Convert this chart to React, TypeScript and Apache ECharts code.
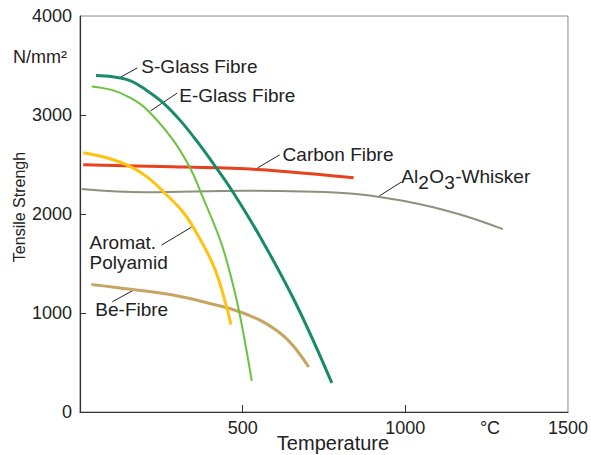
import React, { useEffect, useRef } from "react";
import * as echarts from "echarts";

// Temperature (°C) vs tensile strength (N/mm²)
const sGlass: [number, number][] = [[49, 3400], [100, 3387], [152, 3350], [203, 3253], [258, 3116], [310, 2938], [364, 2715], [419, 2466], [468, 2233], [556, 1756], [665, 1086], [774, 294]];
const eGlass: [number, number][] = [[36, 3289], [100, 3251], [152, 3177], [202, 3065], [283, 2761], [339, 2463], [369, 2236], [430, 1746], [458, 1441], [489, 1018], [528, 315]];
const polyamid: [number, number][] = [[10, 2619], [82, 2568], [152, 2484], [206, 2375], [258, 2220], [319, 2010], [369, 1746], [415, 1441], [450, 1069], [464, 883]];
const carbon: [number, number][] = [[10, 2497], [250, 2480], [507, 2456], [638, 2426], [841, 2365]];
const whisker: [number, number][] = [[5, 2253], [202, 2220], [506, 2236], [810, 2213], [1011, 2121], [1163, 2000], [1300, 1847]];
const beFibre: [number, number][] = [[35, 1289], [162, 1238], [304, 1170], [405, 1091], [486, 1018], [567, 903], [638, 731], [703, 454]];

const xTicks = [500, 1000];
const xLabels = [500, 1000, 1500];
const yTicks = [1000, 2000, 3000];

const FONT = '"Liberation Sans", Arial, Helvetica, sans-serif';
const TXT = "#222";

export default function App() {
  const ref = useRef<HTMLDivElement>(null);
  useEffect(() => {
    if (!ref.current) return;
    const chart = echarts.init(ref.current, null, { renderer: "svg" });
    const line = (data: [number, number][], color: string, width: number) => ({
      type: "line",
      data,
      smooth: 0.4,
      showSymbol: false,
      symbol: "none",
      lineStyle: { color, width, cap: "butt" },
    });
    chart.setOption({
      animation: false,
      grid: { left: 80, top: 16, right: 17, bottom: 43, show: true, borderColor: "#888", borderWidth: 1 },
      xAxis: {
        type: "value",
        min: 0,
        max: 1500,
        interval: 500,
        splitLine: { show: false },
        axisLine: { lineStyle: { color: "#333", width: 1.2 } },
        axisTick: { inside: true, length: 7, lineStyle: { color: "#333" }, customValues: xTicks },
        axisLabel: { color: TXT, fontSize: 18, fontFamily: FONT, margin: 7, customValues: xLabels, formatter: (v: number) => String(v) },
      },
      yAxis: {
        type: "value",
        min: 0,
        max: 4000,
        interval: 1000,
        splitLine: { show: false },
        axisLine: { show: true, lineStyle: { color: "#333", width: 1.2 } },
        axisTick: { inside: true, length: 6, lineStyle: { color: "#333" }, customValues: yTicks },
        axisLabel: { color: TXT, fontSize: 18, fontFamily: FONT, margin: 8, formatter: (v: number) => String(v) },
      },
      series: [
        line(whisker, "#8d907d", 2),
        line(beFibre, "#c9a563", 3),
        line(carbon, "#e8411b", 3),
        line(polyamid, "#ffc20f", 3),
        line(eGlass, "#6cc23d", 2),
        line(sGlass, "#178b6b", 3),
      ],
    });

    // annotations: anchor on curve (data coords), leader offset and text offset (pixels)
    const notes = [
      { at: [121, 3375], d: [18, -10], t: [22, -11], text: "S-Glass Fibre" },
      { at: [216, 3040], d: [27, -18], t: [29, -16], text: "E-Glass Fibre" },
      { at: [546, 2466], d: [22, -13], t: [25, -13], text: "Carbon Fibre" },
      { at: [343, 1868], d: [-30, 18], t: [-102, 15], text: "Aromat." },
      { at: [167, 1235], d: [-22, 12], t: [-39, 20], text: "Be-Fibre" },
    ];
    const g: any[] = [];
    const txt = (x: number, y: number, text: string, extra: any = {}) => ({
      type: "text",
      x,
      y,
      style: { text, fill: TXT, fontSize: 19, fontFamily: FONT, align: "left", verticalAlign: "middle", ...extra },
    });
    notes.forEach((n) => {
      const p = chart.convertToPixel({ gridIndex: 0 }, n.at) as number[];
      g.push({ type: "line", shape: { x1: p[0], y1: p[1], x2: p[0] + n.d[0], y2: p[1] + n.d[1] }, style: { stroke: "#222", lineWidth: 1 } });
      g.push(txt(p[0] + n.t[0], p[1] + n.t[1], n.text));
      if (n.text === "Aromat.") g.push(txt(p[0] + n.t[0], p[1] + n.t[1] + 20, "Polyamid"));
    });
    const w = chart.convertToPixel({ gridIndex: 0 }, [920, 2182]) as number[];
    g.push({ type: "line", shape: { x1: w[0], y1: w[1], x2: w[0] + 22, y2: w[1] - 14 }, style: { stroke: "#222", lineWidth: 1 } });
    const bx = w[0] + 22;
    const by = w[1] - 19;
    g.push(txt(bx, by, "Al"));
    g.push(txt(bx + 17, by + 6, "2"));
    g.push(txt(bx + 28, by, "O"));
    g.push(txt(bx + 43, by + 6, "3"));
    g.push(txt(bx + 54, by, "-Whisker"));
    g.push(txt(40, 57, "N/mm²", { align: "center", fontSize: 18 }));
    g.push(txt(490, 428, "°C", { align: "center", fontSize: 18 }));
    g.push(txt(333, 443, "Temperature", { align: "center", fontSize: 20 }));
    g.push({ type: "text", x: 19, y: 207, rotation: Math.PI / 2, style: { text: "Tensile Strengh", fill: TXT, fontSize: 16, fontFamily: FONT, align: "center", verticalAlign: "middle" } });
    chart.setOption({ graphic: g });
    return () => chart.dispose();
  }, []);
  return <div ref={ref} style={{ width: 591, height: 455, position: "absolute", left: 0, top: 0 }} />;
}
